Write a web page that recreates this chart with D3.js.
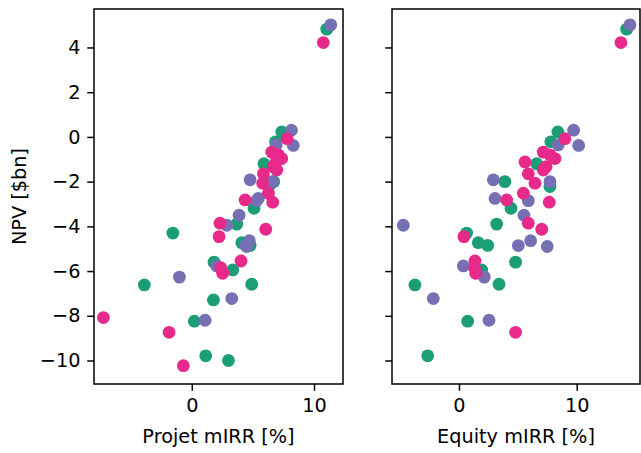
<!DOCTYPE html>
<html><head><meta charset="utf-8">
<script src="https://cdn.jsdelivr.net/npm/d3@7"></script>
<style>body{margin:0;background:#fff}svg{display:block}text{font-family:"DejaVu Sans",sans-serif}</style>
</head><body><svg id="c" width="641" height="453"></svg>
<script>
// Series: green, purple, pink. Each entry: NPV [$bn], Project mIRR [%], Equity mIRR [%]
const seriesNames = ["A", "B", "C"];
const seriesColors = ["#1b9e77", "#7570b3", "#e7298a"];
const greenNPV  = [4.82, 0.22, -0.22, -1.2, -2.0, -2.22, -3.19, -3.9, -4.3, -4.73, -4.85, -5.6, -5.95, -6.62, -6.59, -7.29, -8.24, -9.79, -10.0];
const greenProj = [11.04, 7.36, 6.85, 5.9, 6.7, 6.3, 5.09, 3.68, -1.55, 4.09, 4.77, 1.82, 3.35, -3.88, 4.9, 1.77, 0.21, 1.14, 3.0];
const greenEq   = [14.25, 8.4, 7.8, 6.6, 3.9, 7.73, 4.42, 3.2, 0.65, 1.64, 2.44, 4.81, 1.93, -3.74, 3.4, null, 0.74, -2.66, null];
const purpleNPV  = [5.01, 0.3, -0.38, -0.36, -1.92, -2.0, -2.75, -2.85, -3.5, -3.95, -4.64, -4.86, -4.9, -5.77, -6.27, -7.23, -8.2];
const purpleProj = [11.37, 8.15, 8.3, 6.9, 4.77, 6.6, 5.45, 5.3, 3.87, 2.86, 4.71, 4.41, 4.5, 2.04, -1.01, 3.27, 1.09];
const purpleEq   = [14.53, 9.74, 10.17, 8.44, 2.92, 7.73, 3.06, 5.89, 5.52, -4.73, 6.09, 5.04, 7.5, 0.37, 2.15, -2.18, 2.55];
const pinkNPV  = [4.22, -0.08, -0.68, -0.8, -0.97, -1.12, -1.33, -1.48, -1.65, -2.07, -2.52, -2.82, -2.92, -3.86, -4.13, -4.46, -5.55, -5.85, -6.1, -8.08, -8.74, -10.23];
const pinkProj = [10.76, 7.8, 6.54, 7.08, 7.36, 6.9, 6.67, 6.95, 5.86, 5.8, 6.27, 4.36, 6.62, 2.31, 6.05, 2.23, 4.03, 2.37, 2.53, -7.23, -1.86, -0.69];
const pinkEq   = [13.76, 9.0, 7.16, 7.73, 8.16, 5.61, 7.4, 7.16, 5.89, 6.46, 5.47, 4.05, 7.67, 5.89, 7.03, 0.42, 1.36, 1.32, 1.42, null, 4.81, null];
const yTicks = [-10, -8, -6, -4, -2, 0, 2, 4];
const xTicks = [0, 10];
const xLabels = ["Projet mIRR [%]", "Equity mIRR [%]"];
const yLabel = "NPV [$bn]";

const series = [
  {npv: greenNPV, proj: greenProj, eq: greenEq, color: seriesColors[0]},
  {npv: purpleNPV, proj: purpleProj, eq: purpleEq, color: seriesColors[1]},
  {npv: pinkNPV, proj: pinkProj, eq: pinkEq, color: seriesColors[2]}
];

const FS = 19.3, TICK = 6.75, INK = "#000";
const svg = d3.select("#c");
const plotTop = 9, plotBottom = 384;
const y = d3.scaleLinear().domain([-11.05, 5.72]).range([plotBottom, plotTop]);
const panels = [
  {x0: 94, x1: 343, domain: [-8.0, 12.37], key: "proj", label: xLabels[0], showY: true},
  {x0: 392, x1: 640, domain: [-5.69, 15.38], key: "eq", label: xLabels[1], showY: false}
];
const fmt = d => d < 0 ? "\u2212" + Math.abs(d) : String(d);

panels.forEach(p => {
  const x = d3.scaleLinear().domain(p.domain).range([p.x0, p.x1]);
  const g = svg.append("g");
  const clipId = "clip" + p.key;
  svg.append("clipPath").attr("id", clipId).append("rect")
    .attr("x", p.x0).attr("y", plotTop).attr("width", p.x1 - p.x0).attr("height", plotBottom - plotTop);
  const pts = g.append("g").attr("clip-path", `url(#${clipId})`);
  series.forEach(s => {
    const data = s.npv.map((v, i) => ({y: v, x: s[p.key][i]})).filter(d => d.x !== null);
    pts.selectAll(null).data(data).enter().append("circle")
      .attr("cx", d => x(d.x)).attr("cy", d => y(d.y)).attr("r", 6.4)
      .attr("fill", s.color);
  });
  const xa = g.append("g").attr("transform", `translate(0,${plotBottom})`)
    .call(d3.axisBottom(x).tickValues(xTicks).tickSize(TICK).tickPadding(7.5).tickFormat(fmt));
  const ya = g.append("g").attr("transform", `translate(${p.x0},0)`)
    .call(d3.axisLeft(y).tickValues(yTicks).tickSize(TICK).tickPadding(6.75).tickFormat(p.showY ? fmt : ""));
  [xa, ya].forEach(a => {
    a.select(".domain").remove();
    a.selectAll("line").attr("stroke", INK).attr("stroke-width", 1.5);
    a.selectAll("text").attr("font-size", FS).attr("fill", INK).attr("font-family", "DejaVu Sans");
  });
  g.append("rect").attr("x", p.x0).attr("y", plotTop).attr("width", p.x1 - p.x0).attr("height", plotBottom - plotTop)
    .attr("fill", "none").attr("stroke", INK).attr("stroke-width", 1.5);
  g.append("text").attr("x", (p.x0 + p.x1) / 2).attr("y", 443).attr("text-anchor", "middle")
    .attr("font-size", FS).attr("fill", INK).text(p.label);
});
svg.append("text").attr("transform", `translate(26,${(plotTop + plotBottom) / 2}) rotate(-90)`)
  .attr("text-anchor", "middle").attr("font-size", FS).attr("fill", INK).text(yLabel);
</script></body></html>
